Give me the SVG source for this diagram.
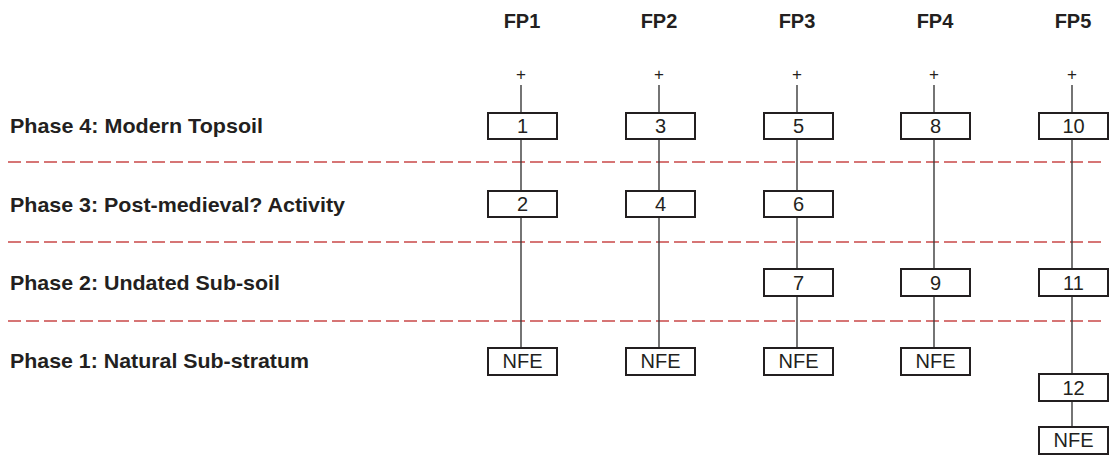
<svg xmlns="http://www.w3.org/2000/svg" width="1109" height="456" viewBox="0 0 1109 456">
<style>
.hdr{font-family:"Liberation Sans",Arial,sans-serif;font-weight:bold;font-size:20px;fill:#231f20;text-anchor:middle}
.ph{font-family:"Liberation Sans",Arial,sans-serif;font-weight:bold;font-size:21px;fill:#231f20}
.bx rect{fill:#fff;stroke:#231f20;stroke-width:2}
.bx text{font-family:"Liberation Sans",Arial,sans-serif;font-size:20px;fill:#231f20;text-anchor:middle}
.plus{font-family:"Liberation Sans",Arial,sans-serif;font-size:17px;fill:#231f20;text-anchor:middle}
.dash{stroke:#c94848;stroke-width:1.5;stroke-dasharray:13 5;fill:none}
.con line{stroke:#3a3a3a;stroke-width:1.4}
</style>
<rect width="1109" height="456" fill="#fff"/>
<g id="phase-lines">
<line class="dash" x1="8" y1="162" x2="1105" y2="162"/>
<line class="dash" x1="8" y1="242" x2="1105" y2="242"/>
<line class="dash" x1="8" y1="321" x2="1105" y2="321"/>
</g>
<g id="labels">
<text class="ph" x="10" y="133" textLength="253" lengthAdjust="spacingAndGlyphs">Phase 4: Modern Topsoil</text>
<text class="ph" x="10" y="212" textLength="335" lengthAdjust="spacingAndGlyphs">Phase 3: Post-medieval? Activity</text>
<text class="ph" x="10" y="290" textLength="270" lengthAdjust="spacingAndGlyphs">Phase 2: Undated Sub-soil</text>
<text class="ph" x="10" y="368" textLength="299" lengthAdjust="spacingAndGlyphs">Phase 1: Natural Sub-stratum</text>
<text class="hdr" x="522" y="28">FP1</text>
<text class="hdr" x="659" y="28">FP2</text>
<text class="hdr" x="797" y="28">FP3</text>
<text class="hdr" x="935" y="28">FP4</text>
<text class="hdr" x="1073" y="28">FP5</text>
<text class="plus" x="521" y="80">+</text>
<text class="plus" x="659" y="80">+</text>
<text class="plus" x="797" y="80">+</text>
<text class="plus" x="934" y="80">+</text>
<text class="plus" x="1072" y="80">+</text>
</g>
<g id="connectors" class="con">
<line x1="521" y1="85" x2="521" y2="113"/>
<line x1="521" y1="139" x2="521" y2="191"/>
<line x1="521" y1="217" x2="521" y2="348"/>
<line x1="659" y1="85" x2="659" y2="113"/>
<line x1="659" y1="139" x2="659" y2="191"/>
<line x1="659" y1="217" x2="659" y2="348"/>
<line x1="797" y1="85" x2="797" y2="113"/>
<line x1="797" y1="139" x2="797" y2="191"/>
<line x1="797" y1="217" x2="797" y2="269"/>
<line x1="797" y1="296" x2="797" y2="348"/>
<line x1="934" y1="85" x2="934" y2="113"/>
<line x1="934" y1="139" x2="934" y2="269"/>
<line x1="934" y1="296" x2="934" y2="348"/>
<line x1="1072" y1="85" x2="1072" y2="113"/>
<line x1="1072" y1="139" x2="1072" y2="269"/>
<line x1="1072" y1="296" x2="1072" y2="374"/>
<line x1="1072" y1="401" x2="1072" y2="427"/>
</g>
<g id="n1" class="bx"><rect x="488" y="113" width="69" height="26"/><text x="522.5" y="133">1</text></g>
<g id="n2" class="bx"><rect x="488" y="191" width="69" height="26"/><text x="522.5" y="211">2</text></g>
<g id="nfe1" class="bx"><rect x="488" y="348" width="69" height="27"/><text x="522.5" y="368">NFE</text></g>
<g id="n3" class="bx"><rect x="626" y="113" width="69" height="26"/><text x="660.5" y="133">3</text></g>
<g id="n4" class="bx"><rect x="626" y="191" width="69" height="26"/><text x="660.5" y="211">4</text></g>
<g id="nfe2" class="bx"><rect x="626" y="348" width="69" height="27"/><text x="660.5" y="368">NFE</text></g>
<g id="n5" class="bx"><rect x="764" y="113" width="69" height="26"/><text x="798.5" y="133">5</text></g>
<g id="n6" class="bx"><rect x="764" y="191" width="69" height="26"/><text x="798.5" y="211">6</text></g>
<g id="n7" class="bx"><rect x="764" y="269" width="69" height="27"/><text x="798.5" y="290">7</text></g>
<g id="nfe3" class="bx"><rect x="764" y="348" width="69" height="27"/><text x="798.5" y="368">NFE</text></g>
<g id="n8" class="bx"><rect x="901" y="113" width="69" height="26"/><text x="935.5" y="133">8</text></g>
<g id="n9" class="bx"><rect x="901" y="269" width="69" height="27"/><text x="935.5" y="290">9</text></g>
<g id="nfe4" class="bx"><rect x="901" y="348" width="69" height="27"/><text x="935.5" y="368">NFE</text></g>
<g id="n10" class="bx"><rect x="1039" y="113" width="69" height="26"/><text x="1073.5" y="133">10</text></g>
<g id="n11" class="bx"><rect x="1039" y="269" width="69" height="27"/><text x="1073.5" y="290">11</text></g>
<g id="n12" class="bx"><rect x="1039" y="374" width="69" height="27"/><text x="1073.5" y="395">12</text></g>
<g id="nfe5" class="bx"><rect x="1039" y="427" width="69" height="27"/><text x="1073.5" y="447">NFE</text></g>
</svg>
